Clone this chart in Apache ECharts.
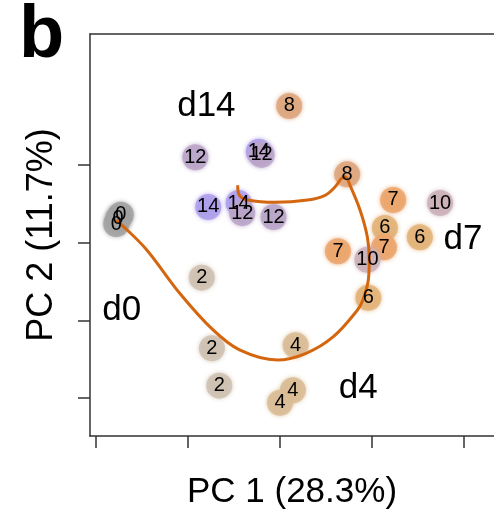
<!DOCTYPE html>
<html><head><meta charset="utf-8">
<script src="https://cdn.jsdelivr.net/npm/echarts@6/dist/echarts.min.js"></script>
<style>html,body{margin:0;padding:0;background:#fff}#c{width:494px;height:509px}</style>
</head><body><div id="c"></div>
<script>
// sample day labels and PCA coordinates (arbitrary PC units, tick spacing = 1)
const sampleDay = [8, 12, 14, 12, 8, 7, 10, 14, 14, 12, 12, 0, 0, 0, 6, 6, 7, 7, 10, 2, 6, 4, 2, 2, 4, 4];
const sampleX = [0.10, -0.92, -0.23, -0.20, 0.73, 1.23, 1.74, -0.78, -0.45, -0.41, -0.07, -1.73, -1.76, -1.78, 1.14, 1.52, 1.13, 0.63, 0.95, -0.85, 0.96, 0.17, -0.74, -0.66, 0.14, 0.00];
const sampleY = [1.76, 1.10, 1.17, 1.13, 0.88, 0.55, 0.51, 0.46, 0.51, 0.38, 0.33, 0.36, 0.31, 0.24, 0.19, 0.07, -0.06, -0.11, -0.22, -0.45, -0.71, -1.32, -1.36, -1.84, -1.90, -2.06];
// principal curve through the time course
const curveX = [-1.78, -1.72, -1.45, -1.09, -0.73, -0.44, -0.03, 0.29, 0.58, 0.84, 0.90, 0.96, 0.97, 0.95, 0.87, 0.76, 0.71, 0.67, 0.60, 0.49, 0.30, -0.05, -0.35, -0.44, -0.46];
const curveY = [0.29, 0.23, -0.09, -0.65, -1.12, -1.38, -1.51, -1.42, -1.21, -0.87, -0.74, -0.48, -0.22, 0.07, 0.42, 0.74, 0.85, 0.83, 0.72, 0.61, 0.55, 0.52, 0.55, 0.61, 0.74];
// group labels
const groupNames = ['d14', 'd7', 'd0', 'd4'];
const groupX = [-0.80, 1.99, -1.72, 0.85];
const groupY = [1.76, 0.04, -0.87, -1.87];
const xTicks = [-2, -1, 0, 1, 2];
const yTicks = [-2, -1, 0, 1];
const dayColors = {0: '#a2a2a2', 2: '#cfc1b2', 4: '#d9bc95', 6: '#e2b378', 7: '#eba56c', 8: '#dda67e', 10: '#cbb0b8', 12: '#baa5c8', 14: '#ae9dea'};

const FONT = 'Liberation Sans, Arial, Helvetica, sans-serif';
const pts = sampleDay.map((d, i) => ({
  value: [sampleX[i], sampleY[i], d],
  itemStyle: {color: dayColors[d], shadowColor: dayColors[d], shadowBlur: 4}
}));
const lbls = sampleDay.map((d, i) => [sampleX[i], sampleY[i], d]);
const curve = curveX.map((x, i) => [x, curveY[i]]);
const groups = groupNames.map((n, i) => [groupX[i], groupY[i], n]);

const axisCol = '#333';
const chart = echarts.init(document.getElementById('c'));
chart.setOption({
  animation: false,
  backgroundColor: '#fff',
  grid: {left: 90, top: 34, right: 0, bottom: 73, show: false, containLabel: false, outerBoundsMode: 'none'},
  xAxis: [{
    type: 'value', min: -2.065, max: 2.326,
    splitLine: {show: false},
    axisLine: {show: true, onZero: false, lineStyle: {color: axisCol, width: 1.5}},
    axisTick: {show: true, inside: false, length: 12, customValues: xTicks, lineStyle: {color: axisCol, width: 1.5}},
    axisLabel: {show: false, customValues: xTicks},
    name: 'PC 1 (28.3%)', nameLocation: 'middle', nameGap: 39,
    nameTextStyle: {fontFamily: FONT, fontSize: 35, color: '#000'}
  }, {
    type: 'value', position: 'top', min: -2.065, max: 2.326,
    splitLine: {show: false},
    axisLine: {show: true, onZero: false, lineStyle: {color: axisCol, width: 1.5}},
    axisTick: {show: false}, axisLabel: {show: false}
  }],
  yAxis: {
    type: 'value', min: -2.488, max: 2.686,
    splitLine: {show: false},
    axisLine: {show: true, onZero: false, lineStyle: {color: axisCol, width: 1.5}},
    axisTick: {show: true, inside: false, length: 12, customValues: yTicks, lineStyle: {color: axisCol, width: 1.5}},
    axisLabel: {show: false, customValues: yTicks},
    name: 'PC 2 (11.7%)', nameLocation: 'middle', nameGap: 30,
    nameTextStyle: {fontFamily: FONT, fontSize: 36, color: '#000'}
  },
  graphic: [{type: 'text', left: 19, top: 0, style: {text: 'b', font: 'bold 74px ' + FONT, fill: '#000'}}],
  series: [
    {type: 'scatter', z: 2, symbolSize: 26, data: pts, itemStyle: {opacity: 0.85}},
    {type: 'line', z: 3, data: curve, smooth: 0.35, showSymbol: false, lineStyle: {color: '#d4660f', width: 3}},
    {type: 'scatter', z: 4, symbolSize: 1, data: lbls, itemStyle: {color: 'rgba(0,0,0,0)', opacity: 1},
      label: {show: true, position: 'inside', formatter: p => String(p.value[2]), fontFamily: FONT, fontSize: 20, color: '#000', textBorderWidth: 0}},
    {type: 'scatter', z: 4, symbolSize: 1, data: groups, itemStyle: {color: 'rgba(0,0,0,0)', opacity: 1},
      label: {show: true, position: 'inside', formatter: p => p.value[2], fontFamily: FONT, fontSize: 35, color: '#000', textBorderWidth: 0}}
  ]
});
</script></body></html>
